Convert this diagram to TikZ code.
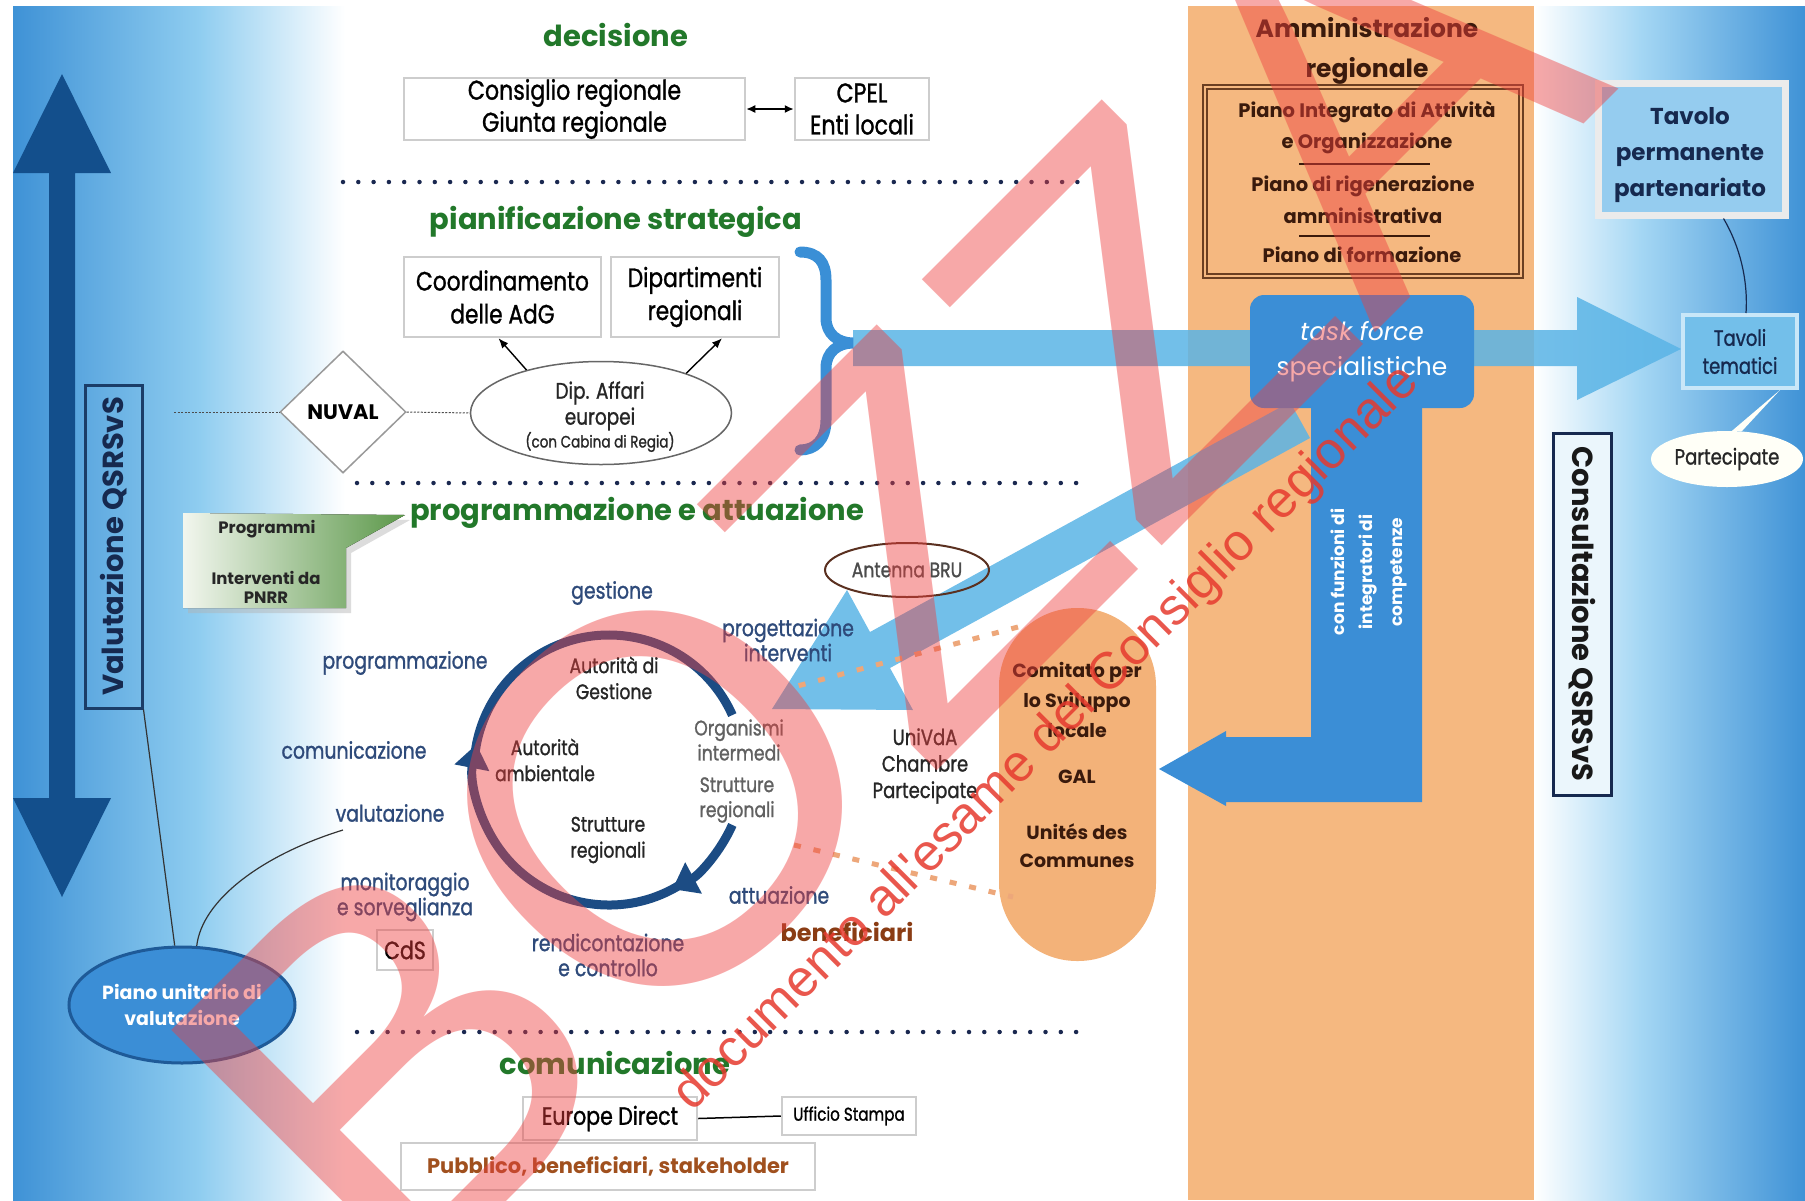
\documentclass[tikz,border=0pt]{standalone}
\usepackage{fontspec}
\setmainfont{Poppins}
\newfontfamily\condfont[FakeStretch=0.82, FakeBold=1.1]{Poppins}
\newfontfamily\wmfont{Liberation Sans}
\usetikzlibrary{shapes.geometric,arrows.meta}
\newcommand\myfs[2]{\fontsize{#1}{#2}\selectfont}
\definecolor{panelblue}{HTML}{3F92D6}
\definecolor{panelmid}{HTML}{8FCDF0}
\definecolor{rpanelmid}{HTML}{A5D7F4}
\definecolor{orangec}{HTML}{F5B880}
\definecolor{orangeb}{HTML}{F3B279}
\definecolor{navyarrow}{HTML}{134F8C}
\definecolor{vbord}{HTML}{1B3D68}
\definecolor{vtext}{HTML}{16294F}
\definecolor{pianobord}{HTML}{1E5A98}
\definecolor{tfblue}{HTML}{3B8ED6}
\definecolor{skyblue}{HTML}{5AB4E6}
\definecolor{braceblue}{HTML}{3A8FD6}
\definecolor{headgreen}{HTML}{22782A}
\definecolor{labnavy}{HTML}{2E4A7A}
\definecolor{cycblue}{HTML}{1C4C84}
\definecolor{boxgray}{HTML}{CDCDCD}
\definecolor{dotnavy}{HTML}{1A2850}
\definecolor{brownb}{HTML}{6B3F22}
\definecolor{browntxt}{HTML}{3A1A0C}
\definecolor{benbrown}{HTML}{8A3C14}
\definecolor{pubbrown}{HTML}{A0501E}
\definecolor{calloutl}{HTML}{F2F6EE}
\definecolor{calloutr}{HTML}{5C984A}
\definecolor{orangedot}{HTML}{EDA77A}
\definecolor{antbrown}{HTML}{5A3020}
\definecolor{wmred}{HTML}{EE4040}
\definecolor{wmred2}{HTML}{E63A2E}
\begin{document}
\begin{tikzpicture}[x=1pt,y=-1pt]
\tikzset{
  gbox/.style={draw=boxgray, line width=2.5, fill=white, inner sep=0, align=center, font=\condfont\myfs{27}{32}},
  lab/.style={text=labnavy, font=\condfont\myfs{23}{25}, align=center, inner sep=0},
  inn/.style={text=black!85, font=\condfont\myfs{21}{26}, align=center, inner sep=0},
  inng/.style={text=black!62, font=\condfont\myfs{21}{25}, align=center, inner sep=0},
  headtxt/.style={text=headgreen, font=\bfseries\myfs{29}{30}, inner sep=0},
  sepdots/.style={line width=4.5, dash pattern=on 0pt off 15.3pt, line cap=round, draw=dotnavy},
  finedots/.style={line width=1, dash pattern=on 2pt off 1.5pt, draw=black!70},
  odots/.style={line width=5, dash pattern=on 7pt off 13pt, draw=orangedot},
  cyc/.style={line width=9, draw=cycblue},
  thinl/.style={line width=1.2, draw=black!80},
  btxt/.style={text=browntxt, font=\bfseries\myfs{19.5}{30}, align=center, inner sep=0},
  wtxt/.style={text=white, font=\bfseries\myfs{17}{20}, inner sep=0, rotate=90},
}
\useasboundingbox (0,0) rectangle (1805,1200);
\fill[white] (0,0) rectangle (1805,1200);
% panels
\fill[left color=panelblue, right color=panelmid] (13,6) rectangle (200,1200);
\fill[left color=panelmid, right color=white] (199.5,6) rectangle (345,1200);
\fill[left color=white, right color=rpanelmid] (1534,6) rectangle (1640,1200);
\fill[left color=rpanelmid, right color=panelblue] (1639.5,6) rectangle (1805,1200);
\fill[orangec] (1188,6) rectangle (1534,1200);

% big navy double arrow
\fill[navyarrow] (62,74) -- (111,173) -- (75,173) -- (75,798) -- (111,798) -- (62,897) -- (13,798) -- (49,798) -- (49,173) -- (13,173) -- cycle;

% Valutazione QSRSvS
\node[draw=vbord, line width=3, rotate=90, minimum width=323, minimum height=57, inner sep=0, font=\bfseries\myfs{29}{30}, text=vtext] (valq) at (113.5,546.5) {Valutazione QSRSvS};

% Piano unitario
\node[ellipse, draw=pianobord, line width=3, fill=tfblue, minimum width=226, minimum height=116, inner sep=0, text=white, align=center, font=\bfseries\myfs{19}{26}] (puv) at (182,1005) {Piano unitario di\\valutazione};

% green callout
\fill[black!30, opacity=.45] (188,518) -- (410,520) -- (351,553) -- (351,613) -- (188,613) -- cycle;
\fill[left color=calloutl, right color=calloutr] (183,513) -- (405,515) -- (346,548) -- (346,608) -- (183,608) -- cycle;
\node[font=\bfseries\myfs{16.5}{19}, text=black!85, inner sep=0] (progr) at (267,529) {Programmi};
\node[font=\bfseries\myfs{16.5}{19}, text=black!85, inner sep=0, align=center] (pnrr) at (266,587) {Interventi da\\PNRR};

% separators
\coordinate (d1a) at (343,182); \coordinate (d1b) at (1080,182);
\coordinate (d2a) at (357,483); \coordinate (d2b) at (1090,483);
\coordinate (d3a) at (357,1032); \coordinate (d3b) at (1090,1032);
\draw[sepdots] (d1a) -- (d1b);
\draw[sepdots] (d2a) -- (d2b);
\draw[sepdots] (d3a) -- (d3b);

% light blue arrows
\fill[skyblue, opacity=.85] (853,330) -- (1577,330) -- (1577,297) -- (1681,349) -- (1577,400) -- (1577,366) -- (853,366) -- cycle;
\fill[skyblue, opacity=.85] (1290,402) -- (870,632) -- (847,590) -- (772,709) -- (913,710) -- (890,668) -- (1310,438) -- cycle;

% brace
\draw[line width=11, draw=braceblue, line cap=round] (800,252) .. controls (818,252) and (826,262) .. (826,280) -- (826,318) .. controls (826,334) and (838,343) .. (853,343) .. controls (838,343) and (826,352) .. (826,368) -- (826,420) .. controls (826,440) and (815,450) .. (800,450);

% L arrow and task force
\fill[tfblue] (1311,400) -- (1422,400) -- (1422,802) -- (1226,802) -- (1226,806) -- (1159,769) -- (1226,731) -- (1226,737) -- (1311,737) -- cycle;
\node[rounded corners=14, fill=tfblue, minimum width=224, minimum height=113, inner sep=0, text=white, align=center, font=\myfs{25}{35}] (tf) at (1362,351.5) {\textit{task force}\\specialistiche};
\node[wtxt] (cf1) at (1338,572) {con funzioni di};
\node[wtxt] (cf2) at (1368,572) {integratori di};
\node[wtxt] (cf3) at (1399,572) {competenze};

% orange stadium
\node[rounded corners=78, fill=orangeb, minimum width=157, minimum height=353, inner sep=0] (csl) at (1077.5,784.5) {};
\node[btxt, font=\bfseries\myfs{19}{30}] (csl1) at (1077,700) {Comitato per\\lo Sviluppo\\locale};
\node[btxt, font=\bfseries\myfs{19}{28}] (gal) at (1077,777) {GAL};
\node[btxt, font=\bfseries\myfs{19}{28}] (udc) at (1077,846) {Unités des\\Communes};

% orange dotted lines
\coordinate (o1a) at (1018,627); \coordinate (o1b) at (790,688);
\coordinate (o2a) at (794,845); \coordinate (o2b) at (1013,897);
\draw[odots] (o1a) -- (o1b);
\draw[odots] (o2a) -- (o2b);

% decision
\node[headtxt] (hdec) at (616,35) {decisione};
\node[gbox, minimum width=341, minimum height=62] (cons) at (574.5,109) {Consiglio regionale\\Giunta regionale};
\node[gbox, minimum width=134, minimum height=62] (cpel) at (862,109) {CPEL\\Enti locali};
\draw[line width=1.5, {Latex[length=9pt,width=8pt]}-{Latex[length=9pt,width=8pt]}] (cons.east) -- (cpel.west);

% planning
\node[headtxt] (hpian) at (616,222) {pianificazione strategica};
\node[gbox, minimum width=197, minimum height=80, font=\condfont\myfs{26.5}{33}] (coord) at (502.5,297) {Coordinamento\\delle AdG};
\node[gbox, minimum width=168, minimum height=80, font=\condfont\myfs{26.5}{33}] (dipa) at (695,297) {Dipartimenti\\regionali};
\node[diamond, draw=black!40, line width=1.5, fill=white, minimum width=126, minimum height=122, inner sep=0, font=\bfseries\myfs{21}{24}] (nuval) at (343,412) {NUVAL};
\node[ellipse, draw=black!60, line width=1.5, fill=white, minimum width=261, minimum height=103, inner sep=0] (dip) at (601,413) {};
\node[inn, font=\condfont\myfs{22.5}{26}] (dip1) at (600,393) {Dip. Affari};
\node[inn, font=\condfont\myfs{22.5}{26}] (dip2) at (600,419) {europei};
\node[inn, font=\condfont\myfs{16.5}{20}] (dip3) at (600,442) {(con Cabina di Regia)};
\coordinate (nl) at (174,412);
\draw[finedots] (nl) -- (nuval.west);
\draw[finedots] (nuval.east) -- (dip.west);
\draw[line width=1.4, -{Latex[length=10pt,width=8pt]}] (dip.150) -- ([xshift=-4]coord.south);
\draw[line width=1.4, -{Latex[length=10pt,width=8pt]}] (dip.25) -- ([xshift=27]dipa.south);

% programming
\node[headtxt] (hprog) at (637,513) {programmazione e attuazione};
\node[ellipse, draw=antbrown, line width=2, minimum width=164, minimum height=54, inner sep=0, text=black!70, font=\condfont\myfs{21}{22}] (ant) at (907,570) {Antenna BRU};
\node[lab] (lgest) at (612,593) {gestione};
\node[lab] (lprogt) at (788,640) {progettazione\\interventi};
\node[lab] (lprog) at (405,663) {programmazione};
\node[lab] (lcom) at (354,750) {comunicazione};
\node[lab] (valt) at (390,813) {valutazione};
\node[lab] (lmon) at (405,897) {monitoraggio\\e sorveglianza};
\node[lab] (lrend) at (608,955) {rendicontazione\\e controllo};
\node[lab] (latt) at (779,895) {attuazione};
\node[text=benbrown, font=\bfseries\myfs{24}{26}, inner sep=0] (lben) at (847,932) {beneficiari};
\node[inn, font=\condfont\myfs{22}{26.5}] (univ) at (925,766) {UniVdA\\Chambre\\Partecipate};
\node[gbox, minimum width=56, minimum height=40, font=\condfont\myfs{25}{28}] (cds) at (405,950) {CdS};

\coordinate (valtend) at (343,830);
\draw[thinl] (puv.97) -- (valq.south west);
\draw[thinl] (puv.76) .. controls (202,900) and (262,855) .. (valtend);

% cycle
\coordinate (cc) at (609,770);
\draw[cyc] (cc) ++(186:135) arc[start angle=186, end angle=336, radius=135];
\draw[cyc, -{Triangle[length=24pt,width=34pt]}] (cc) ++(55:135) arc[start angle=55, end angle=191, radius=135];
\draw[cyc, -{Triangle[length=24pt,width=34pt]}] (cc) ++(24:135) arc[start angle=24, end angle=62, radius=135];
\node[inn] (iadg) at (614,678) {Autorità di\\Gestione};
\node[inn] (iamb) at (545,760) {Autorità\\ambientale};
\node[inn] (istr) at (608,840) {Strutture\\regionali};
\node[inng] (iorg) at (739,740) {Organismi\\intermedi};
\node[inng] (istr2) at (737,800) {Strutture\\regionali};

% communication
\node[headtxt] (hcom) at (615,1063) {comunicazione};
\node[gbox, minimum width=174, minimum height=43, font=\condfont\myfs{25}{28}] (ed) at (610,1118.5) {Europe Direct};
\node[gbox, minimum width=134, minimum height=38, font=\condfont\myfs{18.5}{22}] (us) at (849,1116) {Ufficio Stampa};
\draw[line width=1.5] (ed.east) -- (us.west);
\node[gbox, minimum width=414, minimum height=47, font=\bfseries\myfs{21}{24}, text=pubbrown] (pub) at (608,1166.5) {Pubblico, beneficiari, stakeholder};

% administration column
\node[btxt, font=\bfseries\myfs{25}{40}] (amm) at (1367,51) {Amministrazione\\regionale};
\node[draw=brownb, double=orangec, double distance=2.5, line width=1.8, minimum width=316, minimum height=189, inner sep=0] (pbox) at (1363,181.5) {};
\node[btxt] (p1) at (1367,112) {Piano Integrato di Attività};
\node[btxt] (p2) at (1367,143) {e Organizzazione};
\node[btxt] (p3) at (1363,186) {Piano di rigenerazione};
\node[btxt] (p4) at (1363,216) {amministrativa};
\node[btxt] (p5) at (1362,255) {Piano di formazione};
\coordinate (s1a) at (1299,164); \coordinate (s1b) at (1430,164);
\coordinate (s2a) at (1299,236); \coordinate (s2b) at (1430,236);
\draw[line width=1.6, draw=browntxt] (s1a) -- (s1b);
\draw[line width=1.6, draw=browntxt] (s2a) -- (s2b);

% right panel
\node[draw=black!8, line width=7, fill=rpanelmid!85!tfblue, minimum width=187, minimum height=132, inner sep=0] (tav) at (1691.5,149) {};
\node[text=vtext, font=\bfseries\myfs{23}{36}, align=center, inner sep=0] (tavt) at (1690,155) {Tavolo\\permanente\\partenariato};
\node[draw=rpanelmid!60!white, line width=4, fill=skyblue!85!white, minimum width=114, minimum height=73, inner sep=0, text=vtext, font=\condfont\myfs{22}{28}, align=center] (tvt) at (1740,351.5) {Tavoli\\tematici};
\draw[thinl, draw=vtext] ([xshift=32]tav.south) .. controls (1742,250) and (1748,285) .. ([xshift=6]tvt.north);
\node[ellipse, fill=white!97!yellow, minimum width=152, minimum height=56, inner sep=0, text=black!85, font=\condfont\myfs{22}{24}] (part) at (1727,459) {Partecipate};
\fill[white!97!yellow] (part.80) -- ([xshift=-19]tvt.south east) -- (part.62) -- cycle;
\node[draw=vtext, line width=3, fill=white!88!skyblue, rotate=-90, minimum width=362, minimum height=58, inner sep=0, font=\bfseries\myfs{29}{30}, text=black!90] (cq) at (1582.5,614) {Consultazione QSRSvS};

% watermark
\node[rotate=45, anchor=base west, inner sep=0, text=wmred, text opacity=0.45, font=\wmfont\myfs{520}{520}] (bozza) at (394,1314) {BOZZA};
\node[rotate=45, inner sep=0, text=wmred2, text opacity=0.85, font=\wmfont\myfs{52}{52}] (docwm) at (1047,739) {documento all'esame del Consiglio regionale};
\end{tikzpicture}
\end{document}
